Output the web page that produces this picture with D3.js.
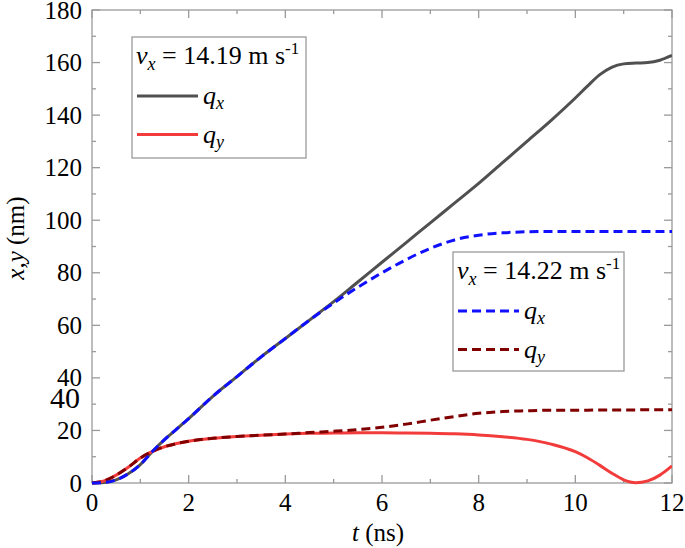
<!DOCTYPE html>
<html>
<head>
<meta charset="utf-8">
<script src="https://cdn.jsdelivr.net/npm/d3@7"></script>
<style>
body{margin:0;background:#fff;}
</style>
</head>
<body>
<svg id="c" width="685" height="548" font-family="'Liberation Serif', 'Times New Roman', Times, 'DejaVu Serif', serif"></svg>
<script>
const tVals = [0,0.25,0.5,0.75,1,1.25,1.5,1.75,2,2.5,3,3.5,4,4.5,5,5.5,6,6.5,7,7.5,8,8.5,9,9.5,10,10.25,10.5,10.75,11,11.25,11.5,11.75,12];
const qx1419 = [0,0.2,1.2,3.5,7,12,16.5,20.5,24.5,33,40.5,48,55,62,69,76.5,84,91.5,99,106.5,114,122,130,138,146.5,151,155.3,158.2,159.5,159.8,160,160.9,162.7];
const qy1419 = [0,0.8,3,6,9.5,12,13.8,15,15.9,17,17.7,18.2,18.6,18.9,19,19.1,19.1,19,18.9,18.7,18.3,17.6,16.6,14.8,11.9,9.6,6.8,3.8,1.2,0.1,0.8,3,6.5];
const qx1422 = [0,0.2,1.2,3.5,7,12,16.5,20.5,24.5,33,40.5,48,55,62,68.5,74.5,80,85,89.3,92.5,94.3,95.2,95.6,95.7,95.7,95.7,95.7,95.7,95.7,95.7,95.7,95.7,95.7];
const qy1422 = [0,0.8,3,6,9.5,12,13.8,15,15.9,17,17.7,18.2,18.6,19.2,19.7,20.3,21.2,22.4,23.9,25.3,26.5,27.2,27.5,27.7,27.7,27.7,27.8,27.8,27.8,27.8,27.9,27.9,27.9];
const xTicks = [0,2,4,6,8,10,12];
const yTicks = [0,20,40,60,80,100,120,140,160,180];

const svg = d3.select("#c");
const L=92, R=672, T=10, B=483;
const x = d3.scaleLinear().domain([0,12]).range([L,R]);
const y = d3.scaleLinear().domain([0,180]).range([B,T]);
const frame="#9a9a9a";

// frame
svg.append("rect").attr("x",L).attr("y",T).attr("width",R-L).attr("height",B-T)
  .attr("fill","none").attr("stroke",frame).attr("stroke-width",1.3);

// ticks
const g = svg.append("g").attr("stroke",frame).attr("stroke-width",1.3);
d3.range(0,13,1).forEach(v=>{
  const len = v%2===0?8:4;
  g.append("line").attr("x1",x(v)).attr("x2",x(v)).attr("y1",B).attr("y2",B-len);
  g.append("line").attr("x1",x(v)).attr("x2",x(v)).attr("y1",T).attr("y2",T+len);
});
d3.range(0,181,10).forEach(v=>{
  const len = v%20===0?8:4;
  g.append("line").attr("y1",y(v)).attr("y2",y(v)).attr("x1",L).attr("x2",L+len);
  g.append("line").attr("y1",y(v)).attr("y2",y(v)).attr("x1",R).attr("x2",R-len);
});

// tick labels
svg.append("g").selectAll("text").data(xTicks).join("text")
  .attr("x",d=>x(d)).attr("y",511).attr("text-anchor","middle")
  .attr("font-size",25).text(d=>d);
svg.append("g").selectAll("text").data(yTicks).join("text")
  .attr("x",82).attr("y",d=>y(d)+8.6).attr("text-anchor","end")
  .attr("font-size",25).text(d=>d);
// stray larger label present in the reference
svg.append("text").attr("x",80).attr("y",408).attr("text-anchor","end")
  .attr("font-size",30).text("40");

// axis titles
const xt = svg.append("text").attr("x",378).attr("y",541).attr("text-anchor","middle").attr("font-size",25);
xt.append("tspan").attr("font-style","italic").text("t");
xt.append("tspan").text(" (ns)");
const yt = svg.append("text").attr("transform","translate(24,238) rotate(-90)").attr("text-anchor","middle").attr("font-size",25);
yt.append("tspan").attr("font-style","italic").text("x,y");
yt.append("tspan").text(" (nm)");

// lines
const line = d3.line().x(d=>x(d[0])).y(d=>y(d[1])).curve(d3.curveMonotoneX);
const series = [
  {v:qx1419,c:"#505050",dash:null},
  {v:qy1419,c:"#f23c3c",dash:null},
  {v:qy1422,c:"#800000",dash:"9,5"},
  {v:qx1422,c:"#1010ff",dash:"9,5"}
];
svg.append("clipPath").attr("id","pc").append("rect")
  .attr("x",L).attr("y",T-2).attr("width",R-L).attr("height",B-T+4);
series.forEach(s=>{
  svg.append("path").datum(tVals.map((t,i)=>[t,s.v[i]]))
    .attr("d",line).attr("fill","none").attr("stroke",s.c).attr("stroke-width",3)
    .attr("stroke-dasharray",s.dash).attr("clip-path","url(#pc)");
});

// legends
function legend(x0,y0,w,h,label,items){
  svg.append("rect").attr("x",x0).attr("y",y0).attr("width",w).attr("height",h)
    .attr("fill","#fff").attr("stroke",frame).attr("stroke-width",1.3);
  const t = svg.append("text").attr("x",x0+4).attr("y",y0+27).attr("font-size",26);
  t.append("tspan").attr("font-style","italic").text("v");
  t.append("tspan").attr("font-style","italic").attr("font-size",18).attr("dy",6).text("x");
  t.append("tspan").attr("dy",-6).text(" = "+label+" m s");
  t.append("tspan").attr("font-size",17).attr("dy",-10).text("-1");
  items.forEach((it,i)=>{
    const ly = y0+59+i*38.5;
    svg.append("line").attr("x1",x0+5).attr("x2",x0+66).attr("y1",ly).attr("y2",ly)
      .attr("stroke",it.c).attr("stroke-width",3).attr("stroke-dasharray",it.dash);
    const lt = svg.append("text").attr("x",x0+71).attr("y",ly+8).attr("font-size",26).attr("font-style","italic");
    lt.append("tspan").text("q");
    lt.append("tspan").attr("font-size",18).attr("dy",5).text(it.s);
  });
}
legend(132,37,174,121,"14.19",[{c:"#505050",dash:null,s:"x"},{c:"#f23c3c",dash:null,s:"y"}]);
legend(453,252,171,119,"14.22",[{c:"#1010ff",dash:"9,5",s:"x"},{c:"#800000",dash:"9,5",s:"y"}]);
</script>
</body>
</html>
